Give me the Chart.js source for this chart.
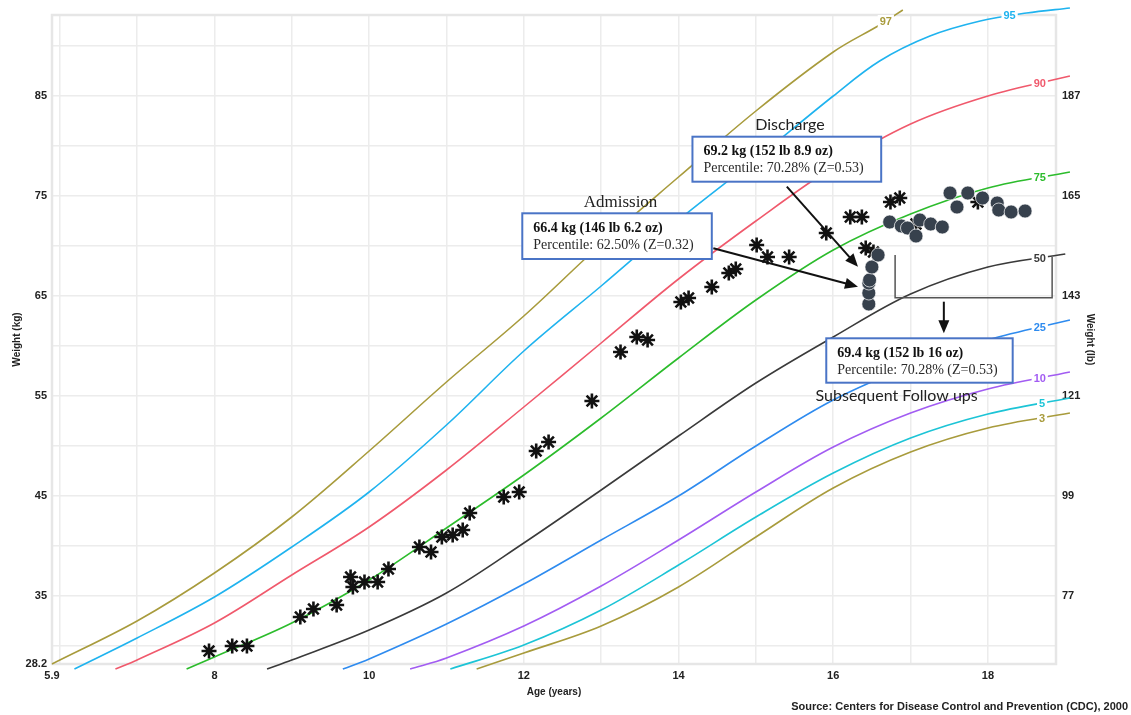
<!DOCTYPE html>
<html>
<head>
<meta charset="utf-8">
<title>Weight-for-age chart</title>
<script src="https://cdn.jsdelivr.net/npm/chart.js@4.4.0/dist/chart.umd.min.js"></script>
<style>
  html, body { margin: 0; padding: 0; background: #fff; }
  #wrap { position: relative; width: 1131px; height: 715px; }
</style>
</head>
<body>
<div id="wrap"><canvas id="growthChart"></canvas></div>
<script>
// --- percentile curves: age (years) and weight (kg) ---
const p97Age = [5.9, 7, 8, 9, 10, 11, 12, 13, 14, 15, 16, 16.6, 16.9];
const p97Kg  = [28.2, 32.5, 37.3, 42.9, 49.5, 56.4, 63.0, 70.2, 76.9, 83.5, 89.4, 92.1, 93.6];
const p95Age = [6.19, 7, 8, 9, 10, 11, 12, 13, 14, 15, 16, 16.6, 17.25, 17.9, 18.5, 19.06];
const p95Kg  = [27.7, 30.8, 34.9, 39.9, 45.4, 52.1, 59.5, 66.0, 72.6, 78.7, 85.0, 88.5, 91.0, 92.5, 93.3, 93.8];
const p90Age = [6.72, 7, 8, 9, 10, 11, 12, 13, 14, 15, 16, 17, 18, 19.06];
const p90Kg  = [27.7, 28.6, 32.3, 37.1, 41.9, 47.6, 53.9, 60.3, 66.7, 72.5, 77.9, 82.2, 85.0, 87.0];
const p75Age = [7.64, 8, 9, 10, 11, 12, 13, 14, 15, 16, 17, 18, 19.06];
const p75Kg  = [27.7, 28.9, 32.3, 36.6, 41.8, 47.1, 52.8, 58.8, 64.6, 69.6, 73.2, 75.8, 77.4];
const p50Age = [8.68, 9, 10, 11, 12, 13, 14, 15, 16, 17, 18, 19.0];
const p50Kg  = [27.7, 28.6, 31.6, 35.3, 40.3, 45.6, 51.0, 56.3, 60.9, 65.2, 67.9, 69.2];
const p25Age = [9.66, 10, 11, 12, 13, 14, 15, 16, 17, 18, 19.06];
const p25Kg  = [27.7, 28.7, 32.2, 36.2, 40.6, 45.0, 50.0, 54.6, 58.0, 60.6, 62.6];
const p10Age = [10.53, 11, 12, 13, 14, 15, 16, 17, 18, 19.06];
const p10Kg  = [27.7, 28.8, 32.0, 36.0, 40.6, 45.4, 49.9, 53.3, 55.7, 57.4];
const p5Age  = [11.05, 12, 13, 14, 15, 16, 17, 18, 19.06];
const p5Kg   = [27.7, 30.1, 33.6, 38.1, 42.9, 47.3, 50.8, 53.2, 54.8];
const p3Age  = [11.39, 12, 13, 14, 15, 16, 17, 18, 19.06];
const p3Kg   = [27.7, 29.3, 32.0, 35.9, 40.9, 45.8, 49.4, 51.8, 53.3];

// --- patient measurements ---
const historyAge = [7.93, 8.23, 8.42, 9.11, 9.28, 9.58, 9.76, 9.79, 9.94, 10.11, 10.25, 10.65, 10.80, 10.94, 11.08,
  11.21, 11.30, 11.74, 11.94, 12.16, 12.32, 12.88, 13.25, 13.46, 13.60, 14.03, 14.13, 14.43, 14.65, 14.74,
  15.01, 15.15, 15.43, 15.91, 16.22, 16.37, 16.42, 16.52, 16.74, 16.86, 17.07, 17.87];
const historyKg = [29.5, 30.0, 30.0, 32.9, 33.7, 34.1, 36.9, 35.9, 36.4, 36.4, 37.7, 39.9, 39.4, 40.9, 41.1,
  41.6, 43.3, 44.9, 45.4, 49.5, 50.4, 54.5, 59.4, 60.9, 60.6, 64.4, 64.8, 65.9, 67.3, 67.7,
  70.1, 68.9, 68.9, 71.3, 72.9, 72.9, 69.8, 69.4, 74.4, 74.8, 72.2, 74.4];
const visitAge = [16.46, 16.46, 16.46, 16.47, 16.50, 16.58, 16.73, 16.88, 16.96, 17.07, 17.12, 17.26, 17.41,
  17.51, 17.60, 17.74, 17.93, 18.12, 18.14, 18.30, 18.48];
const visitKg = [64.2, 65.3, 66.3, 66.6, 67.9, 69.1, 72.4, 72.0, 71.8, 71.0, 72.6, 72.2, 71.9,
  75.3, 73.9, 75.3, 74.8, 74.3, 73.6, 73.4, 73.5];

// --- axes ---
const xTickValues = [5.9, 6, 7, 8, 9, 10, 11, 12, 13, 14, 15, 16, 17, 18];
const xLabelValues = [5.9, 8, 10, 12, 14, 16, 18];
const yTickValues = [28.2, 30, 35, 40, 45, 50, 55, 60, 65, 70, 75, 80, 85, 90];
const yLabelValues = [28.2, 35, 45, 55, 65, 75, 85];
const lbLabelValues = [35, 45, 55, 65, 75, 85];

const curves = [
  { name: '97', ages: p97Age, kg: p97Kg, color: '#a89b3c', tagAge: 16.68 },
  { name: '95', ages: p95Age, kg: p95Kg, color: '#1fb3ef', tagAge: 18.28 },
  { name: '90', ages: p90Age, kg: p90Kg, color: '#f0596c', tagAge: 18.67 },
  { name: '75', ages: p75Age, kg: p75Kg, color: '#2cbc2c', tagAge: 18.67 },
  { name: '50', ages: p50Age, kg: p50Kg, color: '#3a3a3a', tagAge: 18.67 },
  { name: '25', ages: p25Age, kg: p25Kg, color: '#2e8bef', tagAge: 18.67 },
  { name: '10', ages: p10Age, kg: p10Kg, color: '#a25cf2', tagAge: 18.67 },
  { name: '5',  ages: p5Age,  kg: p5Kg,  color: '#1cc4d6', tagAge: 18.7 },
  { name: '3',  ages: p3Age,  kg: p3Kg,  color: '#a89b3c', tagAge: 18.7 }
];

const toPoints = (ages, vals) => ages.map((a, i) => ({ x: a, y: vals[i] }));

const datasets = curves.map(c => ({
  label: c.name,
  data: toPoints(c.ages, c.kg),
  showLine: true,
  borderColor: c.color,
  borderWidth: 1.6,
  pointRadius: 0,
  tension: 0.35,
  clip: false,
  order: 2,
  tag: c.name,
  tagAge: c.tagAge
}));
datasets.push({
  label: 'History',
  data: toPoints(historyAge, historyKg),
  pointStyle: 'star',
  pointRadius: 7.5,
  borderColor: '#111',
  backgroundColor: '#111',
  borderWidth: 2.6,
  order: 1
});
datasets.push({
  label: 'Follow-up',
  data: toPoints(visitAge, visitKg),
  pointStyle: 'circle',
  pointRadius: 7,
  backgroundColor: '#37414d',
  borderColor: 'rgba(255,255,255,0.7)',
  borderWidth: 1,
  order: 0
});

// --- callouts (in data units) ---
const notes = {
  labels: [
    { text: 'Admission', at: [13.25, 74.3], font: '17px "Liberation Serif"' },
    { text: 'Discharge', at: [15.44, 82.1], font: '16px Lato' },
    { text: 'Subsequent Follow ups', at: [16.82, 55.0], font: '16px Lato' }
  ],
  boxes: [
    { from: [11.98, 73.27], to: [14.43, 68.7], lines: ['66.4 kg (146 lb 6.2 oz)', 'Percentile: 62.50% (Z=0.32)'] },
    { from: [14.18, 80.93], to: [16.62, 76.43], lines: ['69.2 kg (152 lb 8.9 oz)', 'Percentile: 70.28% (Z=0.53)'] },
    { from: [15.91, 60.77], to: [18.32, 56.33], lines: ['69.4 kg (152 lb 16 oz)', 'Percentile: 70.28% (Z=0.53)'] }
  ],
  arrows: [
    { from: [14.45, 69.77], to: [16.32, 65.93] },
    { from: [15.40, 75.93], to: [16.32, 67.93] },
    { from: [17.43, 64.43], to: [17.43, 61.27] }
  ],
  bracket: [[16.8, 69.1], [16.8, 64.83], [18.83, 64.83], [18.83, 68.9]]
};

const framePlugin = {
  id: 'frame',
  beforeDatasetsDraw(chart) {
    const { ctx, chartArea: a } = chart;
    ctx.save();
    ctx.strokeStyle = '#e6e6e6';
    ctx.lineWidth = 2.5;
    ctx.strokeRect(a.left, a.top, a.right - a.left, a.bottom - a.top);
    ctx.restore();
  }
};

function drawArrow(ctx, x1, y1, x2, y2) {
  const ang = Math.atan2(y2 - y1, x2 - x1), L = 13, W = 5.5;
  ctx.beginPath();
  ctx.moveTo(x1, y1);
  ctx.lineTo(x2 - L * 0.8 * Math.cos(ang), y2 - L * 0.8 * Math.sin(ang));
  ctx.stroke();
  ctx.beginPath();
  ctx.moveTo(x2, y2);
  ctx.lineTo(x2 - L * Math.cos(ang) + W * Math.sin(ang), y2 - L * Math.sin(ang) - W * Math.cos(ang));
  ctx.lineTo(x2 - L * Math.cos(ang) - W * Math.sin(ang), y2 - L * Math.sin(ang) + W * Math.cos(ang));
  ctx.closePath();
  ctx.fill();
}

const notesPlugin = {
  id: 'notes',
  afterDatasetsDraw(chart) {
    const { ctx, scales: { x, y } } = chart;
    const px = v => x.getPixelForValue(v), py = v => y.getPixelForValue(v);
    ctx.save();

    // percentile tags sitting on the curves
    ctx.font = 'bold 11px "Liberation Sans"';
    ctx.textAlign = 'center';
    ctx.textBaseline = 'middle';
    chart.data.datasets.forEach(ds => {
      if (!ds.tag) return;
      const pts = ds.data;
      let k = null;
      for (let i = 0; i < pts.length - 1; i++) {
        if (ds.tagAge >= pts[i].x && ds.tagAge <= pts[i + 1].x) {
          const t = (ds.tagAge - pts[i].x) / (pts[i + 1].x - pts[i].x);
          k = pts[i].y + t * (pts[i + 1].y - pts[i].y);
        }
      }
      if (k === null) return;
      const cx = px(ds.tagAge), cy = py(k);
      const w = ctx.measureText(ds.tag).width + 4;
      ctx.fillStyle = '#fff';
      ctx.fillRect(cx - w / 2, cy - 6, w, 12);
      ctx.fillStyle = ds.borderColor;
      ctx.fillText(ds.tag, cx, cy + 0.5);
    });

    // bracket around follow-ups
    ctx.strokeStyle = '#555';
    ctx.lineWidth = 1.5;
    ctx.beginPath();
    notes.bracket.forEach((p, i) => i ? ctx.lineTo(px(p[0]), py(p[1])) : ctx.moveTo(px(p[0]), py(p[1])));
    ctx.stroke();

    // arrows
    ctx.strokeStyle = '#111';
    ctx.fillStyle = '#111';
    ctx.lineWidth = 2;
    notes.arrows.forEach(a => drawArrow(ctx, px(a.from[0]), py(a.from[1]), px(a.to[0]), py(a.to[1])));

    // boxes
    notes.boxes.forEach(b => {
      const l = px(b.from[0]), t = py(b.from[1]), r = px(b.to[0]), btm = py(b.to[1]);
      ctx.fillStyle = '#fff';
      ctx.fillRect(l, t, r - l, btm - t);
      ctx.strokeStyle = '#4a74c6';
      ctx.lineWidth = 2;
      ctx.strokeRect(l, t, r - l, btm - t);
      ctx.textAlign = 'left';
      ctx.textBaseline = 'alphabetic';
      ctx.fillStyle = '#111';
      ctx.font = 'bold 14px "Liberation Serif"';
      ctx.fillText(b.lines[0], l + 11, t + 18.5);
      ctx.fillStyle = '#2a2a2a';
      ctx.font = '14px "Liberation Serif"';
      ctx.fillText(b.lines[1], l + 11, t + 35.5);
    });

    // free labels
    ctx.textAlign = 'center';
    ctx.textBaseline = 'middle';
    ctx.fillStyle = '#222';
    notes.labels.forEach(lb => {
      ctx.font = lb.font;
      ctx.fillText(lb.text, px(lb.at[0]), py(lb.at[1]));
    });

    // source line
    ctx.font = 'bold 11px "Liberation Sans"';
    ctx.textAlign = 'right';
    ctx.fillStyle = '#222';
    ctx.fillText('Source: Centers for Disease Control and Prevention (CDC), 2000', 1128, 707);
    ctx.restore();
  }
};

const tickFont = { family: '"Liberation Sans", Arial, sans-serif', size: 11, weight: 'bold' };
const titleFont = { family: '"Liberation Sans", Arial, sans-serif', size: 10, weight: 'bold' };

new Chart(document.getElementById('growthChart').getContext('2d'), {
  type: 'scatter',
  data: { datasets },
  options: {
    responsive: true,
    maintainAspectRatio: false,
    animation: false,
    layout: { padding: { top: 15, left: 0, right: 0, bottom: 0 } },
    plugins: { legend: { display: false }, tooltip: { enabled: false } },
    scales: {
      x: {
        type: 'linear', min: 5.9, max: 18.88,
        afterBuildTicks: s => { s.ticks = xTickValues.map(v => ({ value: v })); },
        afterFit: s => { s.height = 51; },
        ticks: {
          autoSkip: false, maxRotation: 0, padding: 5, color: '#222', font: tickFont,
          callback: v => xLabelValues.includes(v) ? String(v) : ''
        },
        grid: { color: c => (c.tick && c.tick.value === 5.9) ? 'rgba(0,0,0,0)' : '#ececec', lineWidth: 1.5, drawTicks: false },
        border: { display: false },
        title: { display: true, text: 'Age (years)', color: '#222', font: titleFont, padding: { top: 0, bottom: 17 } }
      },
      y: {
        type: 'linear', position: 'left', min: 28.2, max: 93.1,
        afterBuildTicks: s => { s.ticks = yTickValues.map(v => ({ value: v })); },
        afterFit: s => { s.width = 52; },
        ticks: {
          autoSkip: false, padding: 5, color: '#222', font: tickFont,
          callback: v => yLabelValues.includes(v) ? String(v) : ''
        },
        grid: { color: c => (c.tick && c.tick.value === 28.2) ? 'rgba(0,0,0,0)' : '#ececec', lineWidth: 1.5, drawTicks: false },
        border: { display: false },
        title: { display: true, text: 'Weight (kg)', color: '#222', font: titleFont, padding: { top: 11, bottom: 0 } }
      },
      y2: {
        type: 'linear', position: 'right', min: 28.2, max: 93.1,
        afterBuildTicks: s => { s.ticks = lbLabelValues.map(v => ({ value: v })); },
        afterFit: s => { s.width = 75; },
        ticks: {
          autoSkip: false, padding: 6, color: '#222', font: tickFont,
          callback: v => String(Math.round(v * 2.20462))
        },
        grid: { display: false, drawTicks: false },
        border: { display: false },
        title: { display: true, text: 'Weight (lb)', color: '#222', font: titleFont, padding: { top: 35, bottom: 0 } }
      }
    }
  },
  plugins: [framePlugin, notesPlugin]
});
</script>
</body>
</html>
